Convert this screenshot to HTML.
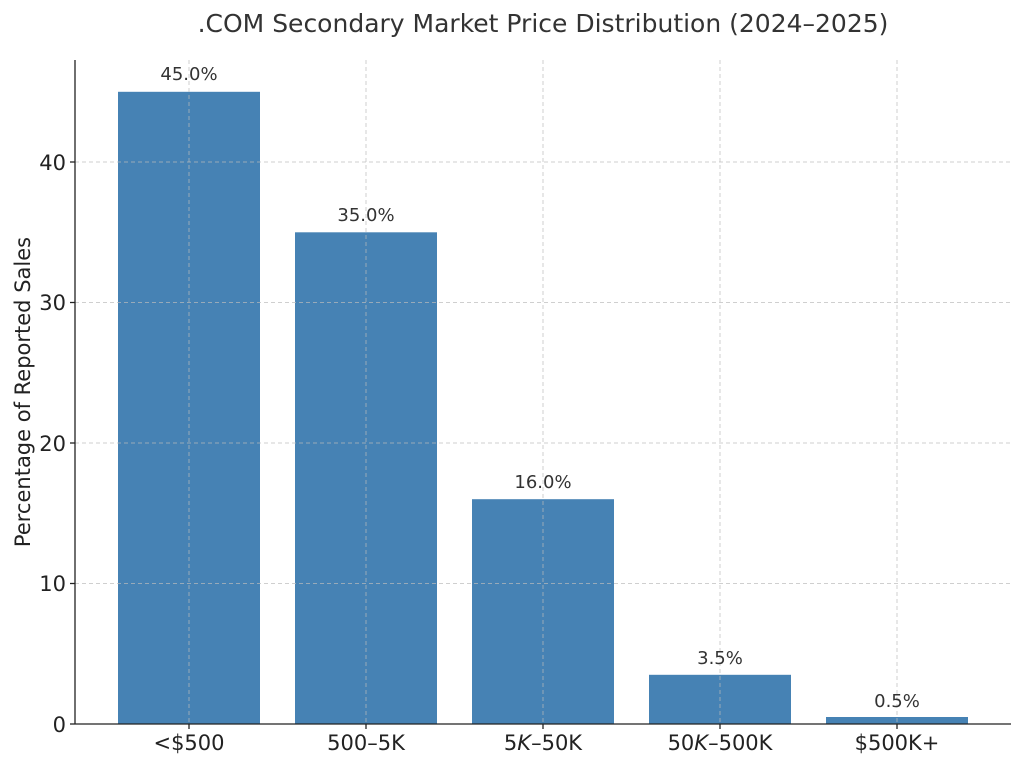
<!DOCTYPE html>
<html><head><meta charset="utf-8"><style>body{margin:0;background:#fff}svg{display:block}</style></head>
<body>
<svg width="1024" height="765" viewBox="0 0 1024 765" xmlns="http://www.w3.org/2000/svg" font-family="DejaVu Sans, Liberation Sans, sans-serif">
<rect width="1024" height="765" fill="#fff"/>
<text x="543" y="32" text-anchor="middle" font-size="25" fill="#333">.COM Secondary Market Price Distribution (2024–2025)</text>
<g fill="#4682b4">
<rect x="118" y="91.8" width="142" height="632.2"/>
<rect x="295" y="232.3" width="142" height="491.7"/>
<rect x="472" y="499.2" width="142" height="224.8"/>
<rect x="649" y="674.8" width="142" height="49.2"/>
<rect x="826" y="717" width="142" height="7"/>
</g>
<g stroke="#bbb" stroke-opacity="0.7" stroke-dasharray="4,3" stroke-width="1">
<line x1="75" x2="1011" y1="583.5" y2="583.5"/>
<line x1="75" x2="1011" y1="443" y2="443"/>
<line x1="75" x2="1011" y1="302.5" y2="302.5"/>
<line x1="75" x2="1011" y1="162" y2="162"/>
<line x1="189" x2="189" y1="60" y2="724"/>
<line x1="366" x2="366" y1="60" y2="724"/>
<line x1="543" x2="543" y1="60" y2="724"/>
<line x1="720" x2="720" y1="60" y2="724"/>
<line x1="897" x2="897" y1="60" y2="724"/>
</g>
<g stroke="#222" stroke-width="1.3">
<line x1="75" y1="60" x2="75" y2="724.5"/>
<line x1="75" y1="724" x2="1011" y2="724"/>
<line x1="70" x2="75" y1="724" y2="724"/><line x1="70" x2="75" y1="583.5" y2="583.5"/>
<line x1="70" x2="75" y1="443" y2="443"/><line x1="70" x2="75" y1="302.5" y2="302.5"/>
<line x1="70" x2="75" y1="162" y2="162"/>
<line x1="189" x2="189" y1="724" y2="729"/><line x1="366" x2="366" y1="724" y2="729"/>
<line x1="543" x2="543" y1="724" y2="729"/><line x1="720" x2="720" y1="724" y2="729"/>
<line x1="897" x2="897" y1="724" y2="729"/>
</g>
<g font-size="21" fill="#222" text-anchor="end">
<text x="66" y="732">0</text><text x="66" y="591">10</text><text x="66" y="451">20</text>
<text x="66" y="310">30</text><text x="66" y="170">40</text>
</g>
<g font-size="21" fill="#222" text-anchor="middle">
<text x="189" y="750">&lt;$500</text>
<text x="366" y="750">500–5K</text>
<text x="543" y="750">5<tspan font-style="italic">K</tspan>–50K</text>
<text x="720" y="750">50<tspan font-style="italic">K</tspan>–500K</text>
<text x="897" y="750">$500K+</text>
</g>
<text transform="translate(30,392) rotate(-90)" text-anchor="middle" font-size="21" fill="#222">Percentage of Reported Sales</text>
<g font-size="18" fill="#333" text-anchor="middle">
<text x="189" y="80">45.0%</text>
<text x="366" y="221">35.0%</text>
<text x="543" y="488">16.0%</text>
<text x="720" y="664">3.5%</text>
<text x="897" y="707">0.5%</text>
</g>
</svg>
</body></html>
